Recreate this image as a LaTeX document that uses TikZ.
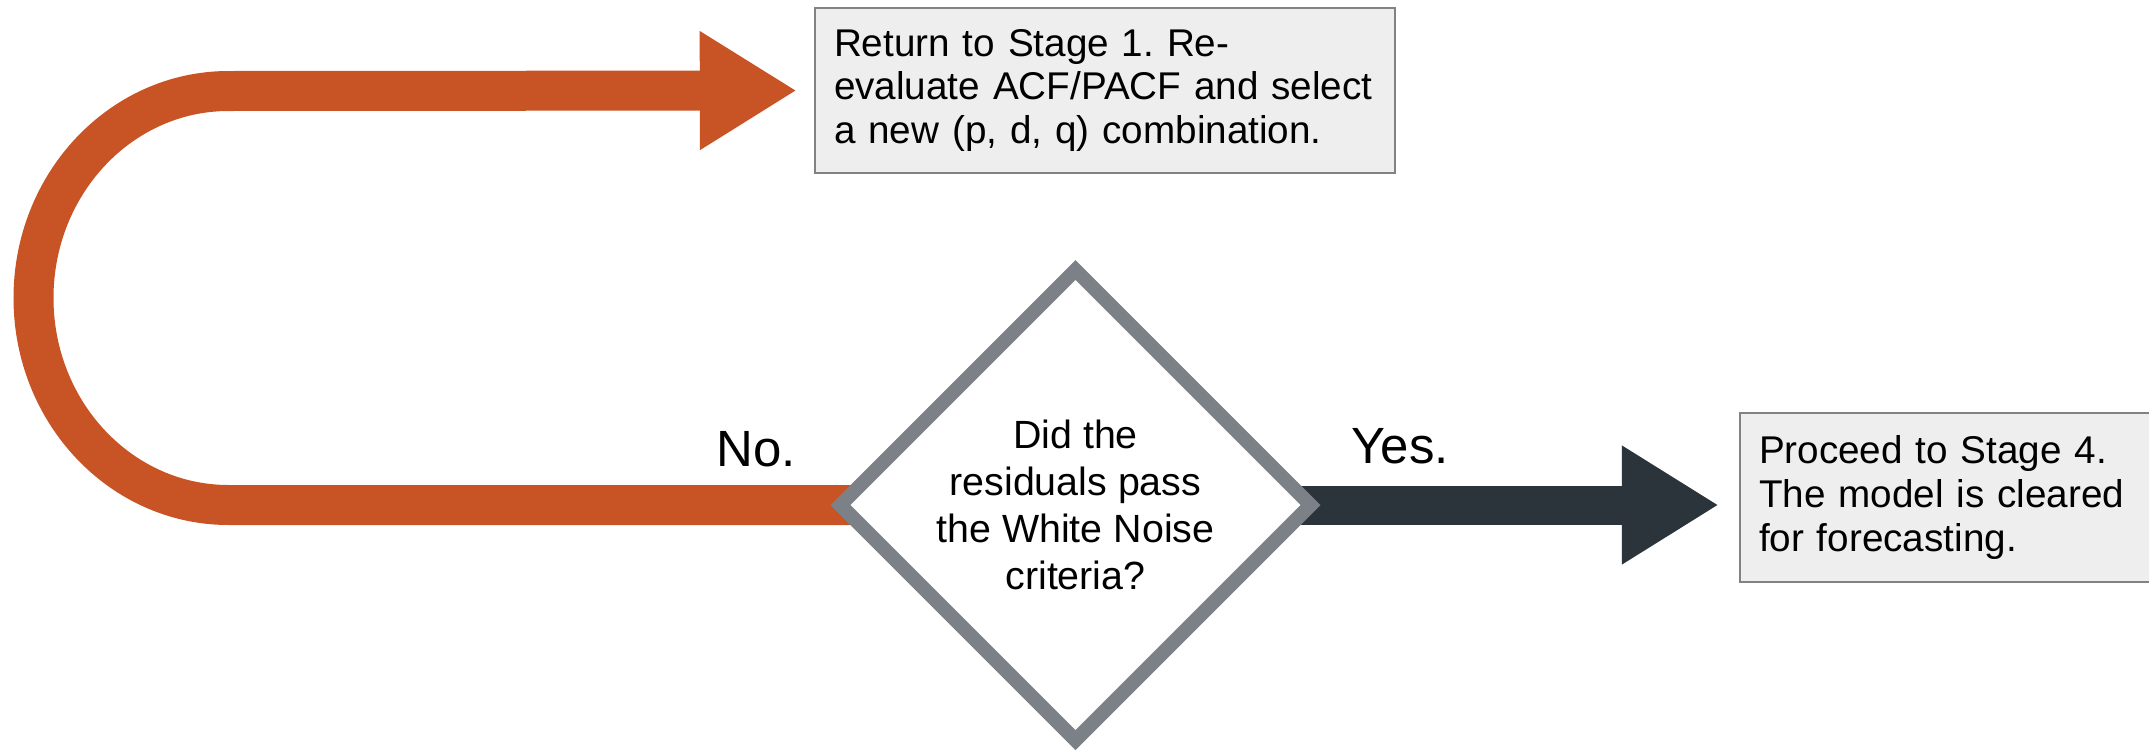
\documentclass[tikz,border=0pt]{standalone}
\usepackage{fontspec}
\setmainfont{Liberation Sans}
\frenchspacing
\usepackage{tikz}
\usetikzlibrary{arrows.meta,shapes.geometric,backgrounds}
\definecolor{corange}{RGB}{200,84,38}
\definecolor{cdark}{RGB}{43,51,59}
\definecolor{cgray}{RGB}{124,129,136}
\definecolor{cbox}{RGB}{238,238,238}
\definecolor{cboxline}{RGB}{130,130,130}

\begin{document}
\begin{tikzpicture}[>={Triangle[length=0.97cm,width=1.12cm]},
  check node/.style={diamond,draw=cgray,line width=0.14cm,fill=white,minimum width=4.76cm,
    minimum height=4.76cm,inner sep=0pt,align=center,font=\fontsize{11.2}{13.4}\selectfont},
  box node/.style={rectangle,draw=cboxline,line width=0.7pt,fill=cbox,align=left,
    inner xsep=0.19cm,font=\fontsize{11}{12.4}\selectfont},
  answer node/.style={anchor=base,inner sep=0pt,font=\fontsize{14.5}{17}\selectfont},
  no arrow/.style={->,draw=corange,line width=0.40cm,shorten >=0.17cm},
  yes arrow/.style={->,draw=cdark,line width=0.39cm,shorten >=0.20cm}]
  \clip (0,0) rectangle (21.49,7.55);
  \node[check node] (check) at (10.755,2.50) {Did the\\residuals pass\\the White Noise\\criteria?};
  \node[box node,minimum width=5.80cm,minimum height=1.65cm,text width=5.42cm] (back) at (11.05,6.645)
    {Return to Stage 1. Re-\\evaluate ACF/PACF and select\\a new (p, d, q) combination.};
  \node[box node,minimum width=4.20cm,minimum height=1.69cm,text width=3.82cm] (fwd) at (19.50,2.575)
    {Proceed to Stage 4.\\The model is cleared\\for forecasting.};
  \node[answer node] (no) at (7.565,2.89) {No.};
  \node[answer node] (yes) at (14.00,2.92) {Yes.};

  \begin{pgfonlayer}{background}
    \draw[no arrow] (check.center) -- ++(-8.47,0)
      arc[start angle=270,end angle=90,x radius=1.95cm,y radius=2.07cm] -- (back.west);
    \draw[yes arrow] (check.center) -- (check.center -| fwd.west);
  \end{pgfonlayer}
\end{tikzpicture}
\end{document}
